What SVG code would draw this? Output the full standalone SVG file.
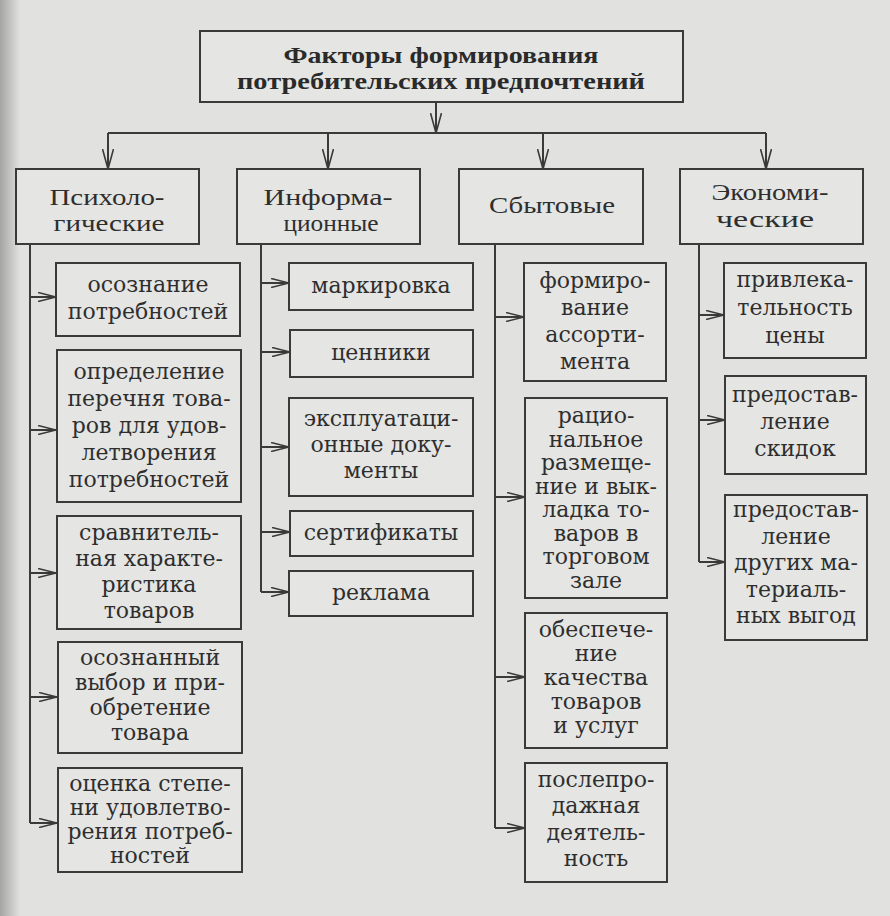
<svg xmlns="http://www.w3.org/2000/svg" width="890" height="916" viewBox="0 0 890 916">
<defs>
<linearGradient id="edge" x1="0" y1="0" x2="1" y2="0">
<stop offset="0" stop-color="#a5a5a5"/>
<stop offset="1" stop-color="#e1e1df"/>
</linearGradient>
<marker id="ah" viewBox="0 0 18 10" refX="18" refY="5" markerWidth="18" markerHeight="10" markerUnits="userSpaceOnUse" orient="auto">
<path d="M0,0.5 L18,5 L0,9.5" fill="none" stroke="#3a3a3a" stroke-width="1.6"/>
</marker>
<marker id="ahv" viewBox="0 0 20 12" refX="20" refY="6" markerWidth="20" markerHeight="12" markerUnits="userSpaceOnUse" orient="auto">
<path d="M0,0.5 L20,6 L0,11.5" fill="none" stroke="#3a3a3a" stroke-width="1.6"/>
</marker>
<style>
.box{fill:#e5e5e3;stroke:#3a3a3a;stroke-width:2}
.t{font-family:"DejaVu Serif","Liberation Serif",serif;font-size:22px;fill:#2e2e2e;text-anchor:middle}
.h{font-family:"Liberation Serif","DejaVu Serif",serif;font-size:24px;fill:#2e2e2e;text-anchor:middle}
.ttl{font-family:"Liberation Serif","DejaVu Serif",serif;font-size:23px;font-weight:bold;fill:#2a2a2a;text-anchor:middle}
.c{fill:none;stroke:#3a3a3a;stroke-width:2}
</style>
</defs>
<rect x="0" y="0" width="890" height="916" fill="#e1e1df"/>
<rect x="0" y="0" width="20" height="916" fill="url(#edge)"/>

<g id="connectors">
<path class="c" d="M436,102 V133" marker-end="url(#ahv)"/>
<path class="c" d="M108,133 H766"/>
<path class="c" d="M108,133 V169" marker-end="url(#ahv)"/>
<path class="c" d="M328,133 V169" marker-end="url(#ahv)"/>
<path class="c" d="M543,133 V169" marker-end="url(#ahv)"/>
<path class="c" d="M766,133 V169" marker-end="url(#ahv)"/>
<path class="c" d="M30,244 V823"/>
<path class="c" d="M30,297 H56" marker-end="url(#ah)"/>
<path class="c" d="M30,430 H56" marker-end="url(#ah)"/>
<path class="c" d="M30,573 H56" marker-end="url(#ah)"/>
<path class="c" d="M30,697 H57" marker-end="url(#ah)"/>
<path class="c" d="M30,823 H57" marker-end="url(#ah)"/>
<path class="c" d="M261,244 V592"/>
<path class="c" d="M261,283 H289" marker-end="url(#ah)"/>
<path class="c" d="M261,352 H290" marker-end="url(#ah)"/>
<path class="c" d="M261,447 H289" marker-end="url(#ah)"/>
<path class="c" d="M261,532 H290" marker-end="url(#ah)"/>
<path class="c" d="M261,592 H289" marker-end="url(#ah)"/>
<path class="c" d="M495,244 V828"/>
<path class="c" d="M495,317 H524" marker-end="url(#ah)"/>
<path class="c" d="M495,497 H525" marker-end="url(#ah)"/>
<path class="c" d="M495,677 H525" marker-end="url(#ah)"/>
<path class="c" d="M495,828 H525" marker-end="url(#ah)"/>
<path class="c" d="M699,244 V562"/>
<path class="c" d="M699,315 H724" marker-end="url(#ah)"/>
<path class="c" d="M699,420 H725" marker-end="url(#ah)"/>
<path class="c" d="M699,562 H725" marker-end="url(#ah)"/>
</g>

<g id="root">
<rect class="box" x="200" y="31" width="483" height="71"/>
<text class="ttl"><tspan x="441" y="63" textLength="315" lengthAdjust="spacingAndGlyphs">Факторы формирования</tspan><tspan x="441" y="89" textLength="408" lengthAdjust="spacingAndGlyphs">потребительских предпочтений</tspan></text>
</g>

<g id="psych">
<rect class="box" x="16" y="169" width="183" height="75"/>
<text class="h"><tspan x="107" y="205" textLength="115" lengthAdjust="spacingAndGlyphs">Психоло-</tspan><tspan x="109" y="231" textLength="111" lengthAdjust="spacingAndGlyphs">гические</tspan></text>
</g>
<g id="info">
<rect class="box" x="237" y="169" width="183" height="75"/>
<text class="h"><tspan x="328" y="205" textLength="129" lengthAdjust="spacingAndGlyphs">Информа-</tspan><tspan x="331" y="231" textLength="95" lengthAdjust="spacingAndGlyphs">ционные</tspan></text>
</g>
<g id="sbyt">
<rect class="box" x="459" y="169" width="184" height="75"/>
<text class="h"><tspan x="552" y="213" textLength="126" lengthAdjust="spacingAndGlyphs">Сбытовые</tspan></text>
</g>
<g id="econ">
<rect class="box" x="680" y="169" width="183" height="75"/>
<text class="h"><tspan x="770" y="200" textLength="117" lengthAdjust="spacingAndGlyphs">Экономи-</tspan><tspan x="765" y="227" textLength="98" lengthAdjust="spacingAndGlyphs">ческие</tspan></text>
</g>

<g id="p1">
<rect class="box" x="56" y="263" width="184" height="73"/>
<text class="t"><tspan x="148" y="292">осознание</tspan><tspan x="148" y="319">потребностей</tspan></text>
</g>
<g id="p2">
<rect class="box" x="57" y="350" width="184" height="152"/>
<text class="t"><tspan x="149" y="379">определение</tspan><tspan x="149" y="406">перечня това-</tspan><tspan x="149" y="433">ров для удов-</tspan><tspan x="149" y="460">летворения</tspan><tspan x="149" y="487">потребностей</tspan></text>
</g>
<g id="p3">
<rect class="box" x="57" y="516" width="184" height="113"/>
<text class="t"><tspan x="149" y="540">сравнитель-</tspan><tspan x="149" y="566">ная характе-</tspan><tspan x="149" y="592">ристика</tspan><tspan x="149" y="618">товаров</tspan></text>
</g>
<g id="p4">
<rect class="box" x="58" y="642" width="184" height="111"/>
<text class="t"><tspan x="150" y="665">осознанный</tspan><tspan x="150" y="690">выбор и при-</tspan><tspan x="150" y="715">обретение</tspan><tspan x="150" y="740">товара</tspan></text>
</g>
<g id="p5">
<rect class="box" x="58" y="768" width="184" height="104"/>
<text class="t"><tspan x="150" y="791">оценка степе-</tspan><tspan x="150" y="815">ни удовлетво-</tspan><tspan x="150" y="839">рения потреб-</tspan><tspan x="150" y="863">ностей</tspan></text>
</g>

<g id="i1">
<rect class="box" x="289" y="263" width="184" height="47"/>
<text class="t"><tspan x="381" y="293">маркировка</tspan></text>
</g>
<g id="i2">
<rect class="box" x="290" y="330" width="183" height="47"/>
<text class="t"><tspan x="381" y="360">ценники</tspan></text>
</g>
<g id="i3">
<rect class="box" x="289" y="398" width="184" height="98"/>
<text class="t"><tspan x="381" y="426">эксплуатаци-</tspan><tspan x="381" y="452">онные доку-</tspan><tspan x="381" y="478">менты</tspan></text>
</g>
<g id="i4">
<rect class="box" x="290" y="511" width="183" height="45"/>
<text class="t"><tspan x="381" y="540">сертификаты</tspan></text>
</g>
<g id="i5">
<rect class="box" x="289" y="571" width="184" height="45"/>
<text class="t"><tspan x="381" y="600">реклама</tspan></text>
</g>

<g id="s1">
<rect class="box" x="524" y="263" width="142" height="118"/>
<text class="t"><tspan x="595" y="288">формиро-</tspan><tspan x="595" y="315">вание</tspan><tspan x="595" y="342">ассорти-</tspan><tspan x="595" y="369">мента</tspan></text>
</g>
<g id="s2">
<rect class="box" x="525" y="398" width="142" height="200"/>
<text class="t"><tspan x="596" y="423">рацио-</tspan><tspan x="596" y="446.5">нальное</tspan><tspan x="596" y="470">размеще-</tspan><tspan x="596" y="493.5">ние и вык-</tspan><tspan x="596" y="517">ладка то-</tspan><tspan x="596" y="540.5">варов в</tspan><tspan x="596" y="564">торговом</tspan><tspan x="596" y="587.5">зале</tspan></text>
</g>
<g id="s3">
<rect class="box" x="525" y="613" width="142" height="135"/>
<text class="t"><tspan x="596" y="637">обеспече-</tspan><tspan x="596" y="661">ние</tspan><tspan x="596" y="685">качества</tspan><tspan x="596" y="709">товаров</tspan><tspan x="596" y="733">и услуг</tspan></text>
</g>
<g id="s4">
<rect class="box" x="525" y="763" width="142" height="119"/>
<text class="t"><tspan x="596" y="787">послепро-</tspan><tspan x="596" y="813">дажная</tspan><tspan x="596" y="840">деятель-</tspan><tspan x="596" y="866">ность</tspan></text>
</g>

<g id="e1">
<rect class="box" x="724" y="263" width="142" height="95"/>
<text class="t"><tspan x="795" y="287">привлека-</tspan><tspan x="795" y="315">тельность</tspan><tspan x="795" y="343">цены</tspan></text>
</g>
<g id="e2">
<rect class="box" x="725" y="376" width="141" height="98"/>
<text class="t"><tspan x="795" y="402">предостав-</tspan><tspan x="795" y="429">ление</tspan><tspan x="795" y="456">скидок</tspan></text>
</g>
<g id="e3">
<rect class="box" x="725" y="495" width="142" height="145"/>
<text class="t"><tspan x="796" y="517">предостав-</tspan><tspan x="796" y="544">ление</tspan><tspan x="796" y="570">других ма-</tspan><tspan x="796" y="597">териаль-</tspan><tspan x="796" y="623">ных выгод</tspan></text>
</g>
</svg>
